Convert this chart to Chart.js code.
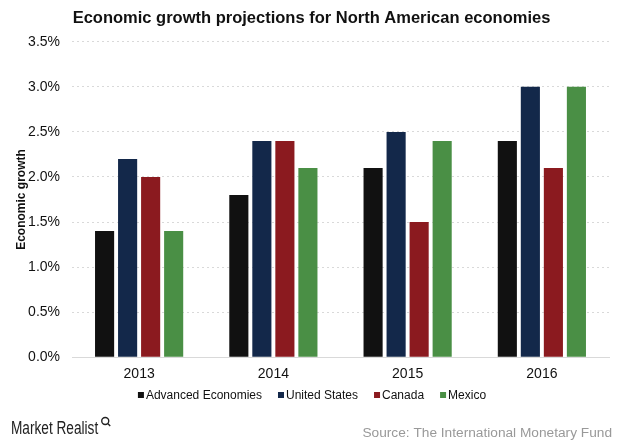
<!DOCTYPE html>
<html>
<head>
<meta charset="utf-8">
<script src="https://cdn.jsdelivr.net/npm/chart.js@4"></script>
<style>
  html, body { margin: 0; padding: 0; background: #fff; }
  #wrap { position: relative; width: 620px; height: 443px; }
</style>
</head>
<body>
<div id="wrap"><canvas id="chart" width="620" height="443"></canvas></div>
<script>
const years = ['2013', '2014', '2015', '2016'];
const advanced = [1.4, 1.8, 2.1, 2.4];
const unitedStates = [2.2, 2.4, 2.5, 3.0];
const canada = [2.0, 2.4, 1.5, 2.1];
const mexico = [1.4, 2.1, 2.4, 3.0];
const yTicks = [0, 0.5, 1.0, 1.5, 2.0, 2.5, 3.0, 3.5];

const FONT = 'Liberation Sans, Arial, sans-serif';

// legend row under the axis, items packed tighter than the built-in one
const legendPlugin = {
  id: 'rowLegend',
  afterDraw(chart) {
    const c = chart.ctx;
    const sets = chart.data.datasets;
    c.save();
    c.font = '12px ' + FONT;
    c.textBaseline = 'middle';
    c.textAlign = 'left';
    const box = 6, gap = 2, spacing = 16;
    const widths = sets.map(d => box + gap + c.measureText(d.label).width);
    const total = widths.reduce((a, b) => a + b, 0) + spacing * (sets.length - 1);
    let x = 312 - total / 2;
    const y = 395;
    sets.forEach((d, i) => {
      c.fillStyle = d.backgroundColor;
      c.fillRect(x, y - box / 2, box, box);
      c.fillStyle = '#111';
      c.fillText(d.label, x + box + gap, y + 0.5);
      x += widths[i] + spacing;
    });
    c.restore();
  }
};

// footer: brand on the left, source on the right
const footerPlugin = {
  id: 'footer',
  afterDraw(chart) {
    const c = chart.ctx;
    c.save();
    c.textBaseline = 'middle';
    c.textAlign = 'left';
    c.font = '17.5px ' + FONT;
    c.fillStyle = '#222';
    const w = c.measureText('Market Realist').width * 0.78;
    c.save();
    c.translate(11, 429);
    c.scale(0.78, 1);
    c.fillText('Market Realist', 0, 0);
    c.restore();
    const lx = 11 + w + 7, ly = 421;
    c.strokeStyle = '#222';
    c.lineWidth = 1.4;
    c.beginPath();
    c.arc(lx, ly, 3.5, 0, Math.PI * 2);
    c.moveTo(lx + 2.5, ly + 2.5);
    c.lineTo(lx + 5, ly + 5);
    c.stroke();
    c.font = '13.7px ' + FONT;
    c.fillStyle = '#999';
    c.textAlign = 'right';
    c.fillText('Source: The International Monetary Fund', 612, 433);
    c.restore();
  }
};

const barStyle = { categoryPercentage: 0.686, barPercentage: 0.83, borderWidth: 0 };

new Chart(document.getElementById('chart'), {
  type: 'bar',
  data: {
    labels: years,
    datasets: [
      { label: 'Advanced Economies', data: advanced, backgroundColor: '#111111', ...barStyle },
      { label: 'United States', data: unitedStates, backgroundColor: '#13284a', ...barStyle },
      { label: 'Canada', data: canada, backgroundColor: '#8b1a1f', ...barStyle },
      { label: 'Mexico', data: mexico, backgroundColor: '#4a8f45', ...barStyle }
    ]
  },
  options: {
    responsive: false,
    animation: false,
    layout: { padding: { left: 14, right: 11, top: 0, bottom: 51 } },
    plugins: {
      title: {
        display: true,
        text: 'Economic growth projections for North American economies',
        color: '#111',
        font: { family: FONT, size: 16.5, weight: 'bold' },
        padding: { top: 9, bottom: 13 }
      },
      legend: { display: false },
      tooltip: { enabled: false }
    },
    scales: {
      x: {
        grid: { display: false, drawTicks: false },
        border: { color: '#d9d9d9' },
        ticks: { color: '#111', font: { family: FONT, size: 14 }, padding: 9 }
      },
      y: {
        min: 0,
        max: 3.5,
        afterBuildTicks(axis) { axis.ticks = yTicks.map(v => ({ value: v })); },
        afterFit(axis) { axis.width = 58; },
        grid: { color: '#d9d9d9', drawTicks: false },
        border: { display: false, dash: [2, 3] },
        ticks: {
          color: '#111',
          font: { family: FONT, size: 14 },
          padding: 12,
          callback: v => v.toFixed(1) + '%'
        },
        title: {
          display: true,
          text: 'Economic growth',
          color: '#111',
          font: { family: FONT, size: 12, weight: 'bold' },
          padding: { top: 0, bottom: 2 }
        }
      }
    }
  },
  plugins: [legendPlugin, footerPlugin]
});
</script>
</body>
</html>
